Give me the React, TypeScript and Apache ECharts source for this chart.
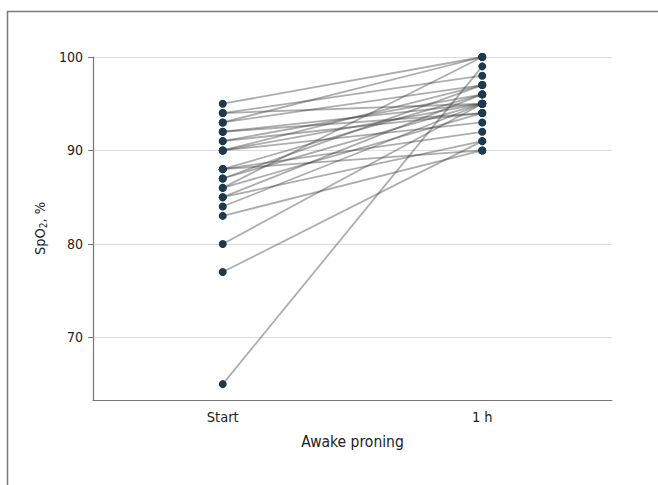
import React, { useEffect, useRef } from "react";
import * as echarts from "echarts";

const timepoints = ["Start", "1 h"];
const startValues = [95, 94, 94, 93, 93, 92, 92, 91, 91, 90, 90, 90, 88, 88, 88, 87, 87, 86, 86, 85, 85, 84, 83, 80, 77, 65];
const oneHourValues = [100, 95, 98, 97, 100, 95, 94, 94, 96, 97, 95, 93, 90, 96, 92, 95, 97, 94, 100, 96, 91, 95, 90, 95, 91, 99];
const yTickValues = [70, 80, 90, 100];

export default function App() {
  const ref = useRef<HTMLDivElement>(null);
  useEffect(() => {
    if (!ref.current) return;
    const chart = echarts.init(ref.current, null, { renderer: "svg" });
    const font = "'DejaVu Sans Condensed', 'Liberation Sans Narrow', sans-serif";
    const lineSeries = startValues.map((s, i) => ({
      type: "line",
      data: [s, oneHourValues[i]],
      symbol: "none",
      lineStyle: { color: "rgba(60,60,60,0.42)", width: 1.8 },
      z: 2,
      silent: true,
    }));
    const points: [string, number][] = [];
    startValues.forEach((s) => points.push([timepoints[0], s]));
    oneHourValues.forEach((e) => points.push([timepoints[1], e]));
    chart.setOption({
      animation: false,
      grid: { left: 93, right: 46, top: 57, bottom: 85 },
      graphic: [
        {
          type: "rect",
          shape: { x: 7.5, y: 11.5, width: 700, height: 520 },
          style: { fill: "none", stroke: "#7a7a7a", lineWidth: 1.5 },
          silent: true,
        },
      ],
      xAxis: {
        type: "category",
        data: timepoints,
        boundaryGap: true,
        name: "Awake proning",
        nameLocation: "middle",
        nameGap: 34,
        nameTextStyle: { fontFamily: font, fontSize: 15.5, color: "#222" },
        axisLine: { lineStyle: { color: "#777", width: 1.2 } },
        axisTick: { alignWithLabel: true, length: 5, lineStyle: { color: "#777" } },
        axisLabel: { fontFamily: font, fontSize: 14.5, color: "#222", margin: 9 },
        splitLine: { show: false },
      },
      yAxis: {
        type: "value",
        min: 63.3,
        max: 100,
        name: "{a|SpO}{s|2}{a|, %}",
        nameLocation: "middle",
        nameGap: 40,
        nameRotate: 90,
        nameTextStyle: {
          rich: {
            a: { fontFamily: font, fontSize: 14.5, color: "#222" },
            s: { fontFamily: font, fontSize: 10, color: "#222", verticalAlign: "bottom", padding: [6, 0, 0, 0] },
          },
        },
        axisLine: { show: true, lineStyle: { color: "#777", width: 1.2 } },
        axisTick: { show: true, length: 5, customValues: yTickValues, lineStyle: { color: "#777" } },
        axisLabel: { fontFamily: font, fontSize: 14, color: "#222", margin: 10, customValues: yTickValues },
        splitLine: { show: true, lineStyle: { color: "#dcdcdc", width: 1 } },
      },
      series: [
        ...lineSeries,
        {
          type: "scatter",
          data: points,
          symbol: "circle",
          symbolSize: 8,
          itemStyle: { color: "#1c3a4e", opacity: 1 },
          z: 5,
          silent: true,
        },
      ],
    });
    return () => chart.dispose();
  }, []);
  return (
    <div
      ref={ref}
      style={{ position: "fixed", left: 0, top: 0, width: 658, height: 485, background: "#fff" }}
    />
  );
}
